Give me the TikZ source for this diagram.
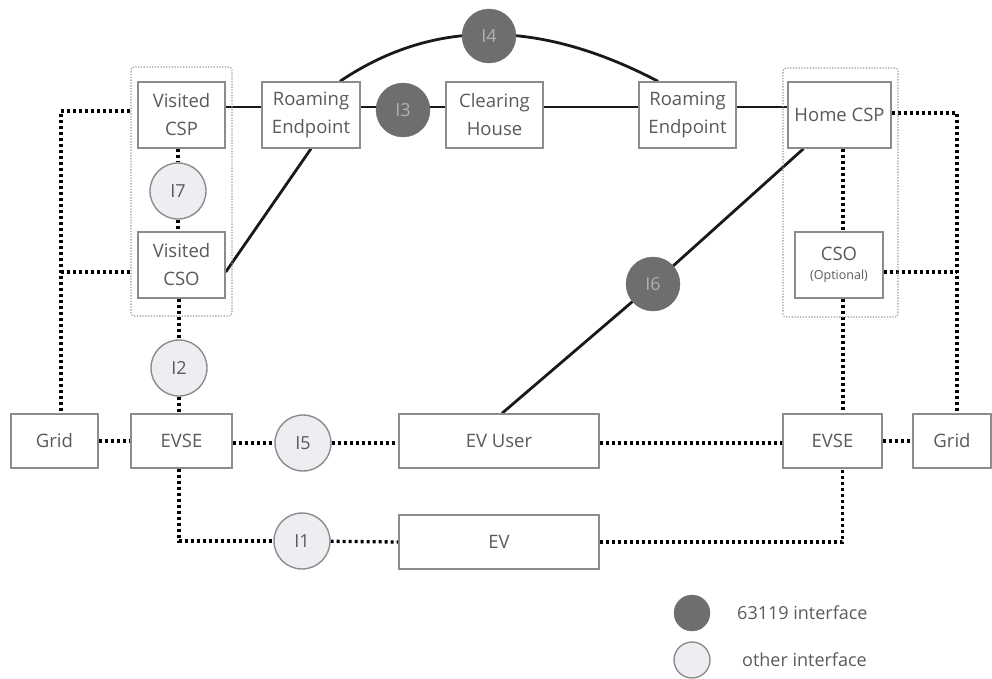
\documentclass[tikz,border=0pt]{standalone}
\usepackage{fontspec}
\setmainfont{Open Sans}
\usetikzlibrary{calc}
\definecolor{boxline}{HTML}{8C8C8C}
\definecolor{txt}{HTML}{5A5A5A}
\definecolor{darkif}{HTML}{6E6E6E}
\definecolor{darkiftxt}{HTML}{B0B0B0}
\definecolor{lightif}{HTML}{EDEDF2}
\definecolor{grp}{HTML}{9A9A9A}
\pgfdeclarelayer{bg}
\pgfsetlayers{bg,main}
\tikzset{
  ent/.style={draw=boxline, line width=1.4pt, fill=white, text=txt, align=center, inner sep=0pt,
    font=\fontsize{18.5}{28}\selectfont},
  darkcirc/.style={circle, fill=darkif, draw=darkif, minimum size=54pt, inner sep=0pt, text=darkiftxt,
    font=\fontsize{18}{20}\selectfont},
  lightcirc/.style={circle, fill=lightif, draw=boxline, line width=1.4pt, minimum size=56pt, inner sep=0pt, text=txt,
    font=\fontsize{18}{20}\selectfont},
  grpbox/.style={draw=grp, line width=1.1pt, dash pattern=on 1.3pt off 1.5pt, rounded corners=3pt, inner sep=0pt},
  solidlink/.style={draw=black!90, line width=2.8pt},
  dotlink/.style={draw=black, line width=3.3pt, dash pattern=on 3pt off 3pt},
  legtxt/.style={text=txt, anchor=west, inner sep=0pt, font=\fontsize{18}{20}\selectfont}
}
\begin{document}
\begin{tikzpicture}[x=1pt,y=-1pt]
\useasboundingbox (0,0) rectangle (992,678);
% group boxes
\node[grpbox, minimum width=101pt, minimum height=249pt] (vgrp) at (181.5,191.5) {};
\node[grpbox, minimum width=115pt, minimum height=249pt] (hgrp) at (840.5,192.5) {};
% entities
\node[ent, minimum width=87pt, minimum height=66pt] (vcsp) at (181.5,115) {Visited\\CSP};
\node[ent, minimum width=87pt, minimum height=66pt] (vcso) at (181.5,265) {Visited\\CSO};
\node[ent, minimum width=98pt, minimum height=66pt] (re1) at (311,115) {Roaming\\Endpoint};
\node[ent, minimum width=97pt, minimum height=66pt] (ch) at (494.5,115) {Clearing\\House};
\node[ent, minimum width=97pt, minimum height=66pt] (re2) at (687.5,115) {Roaming\\Endpoint};
\node[ent, minimum width=103pt, minimum height=66pt] (hcsp) at (839.5,115) {Home CSP};
\node[ent, minimum width=88pt, minimum height=66pt] (hcso) at (839,265)
  {CSO\\[-9pt]{\fontsize{12.5}{14}\selectfont(Optional)}};
\node[ent, minimum width=87pt, minimum height=54pt] (gridL) at (54.5,441) {Grid};
\node[ent, minimum width=101pt, minimum height=54pt] (evseL) at (181.5,441) {EVSE};
\node[ent, minimum width=200pt, minimum height=54pt] (evuser) at (499,441) {EV User};
\node[ent, minimum width=99pt, minimum height=54pt] (evseR) at (832.5,441) {EVSE};
\node[ent, minimum width=78pt, minimum height=54pt] (gridR) at (952,441) {Grid};
\node[ent, minimum width=200pt, minimum height=54pt] (ev) at (499,542) {EV};
% interfaces
\node[darkcirc] (i4) at (489,36) {I4};
\node[darkcirc] (i3) at (403,110) {I3};
\node[darkcirc] (i6) at (653,284) {I6};
\node[lightcirc] (i7) at (178,191) {I7};
\node[lightcirc] (i2) at (179,368) {I2};
\node[lightcirc] (i5) at (303,443) {I5};
\node[lightcirc] (i1) at (302,541) {I1};
% legend
\node[darkcirc, minimum size=36pt] (legd) at (692,613) {};
\node[lightcirc, minimum size=36pt] (legl) at (692,660) {};
\node[legtxt] (legdt) at (737,613) {63119 interface};
\node[legtxt] (leglt) at (742,660) {other interface};
% connectors
\begin{pgfonlayer}{bg}
  % solid links
  \draw[solidlink] ([yshift=8pt]vcsp.east) -- ([yshift=8pt]re1.west);
  \draw[solidlink] ([yshift=8pt]re1.east) -- ([yshift=8pt]ch.west);
  \draw[solidlink] ([yshift=8pt]ch.east) -- ([yshift=8pt]re2.west);
  \draw[solidlink] ([yshift=8pt]re2.east) -- ([yshift=8pt]hcsp.west);
  \draw[solidlink] ([xshift=29pt]re1.north) .. controls (432.7,18.7) and (538.7,18.7) .. ([xshift=-29.5pt]re2.north);
  \draw[solidlink] ([yshift=-7pt]vcso.east) -- (re1.south);
  \draw[solidlink] ([xshift=-36pt]hcsp.south) -- (i6) -- ([xshift=3pt]evuser.north);
  % dotted links
  \draw[dotlink] (vcsp.south -| i7) -- (i7) -- (vcso.north -| i7);
  \draw[dotlink] (vcso.south -| i2) -- (i2) -- (evseL.north -| i2);
  \draw[dotlink] ([yshift=4pt]vgrp.west |- vcsp.west) -| ([xshift=6.5pt]gridL.north);
  \draw[dotlink] ([yshift=-7pt]vgrp.west |- vcso.west) -- ([yshift=-7pt,xshift=6.5pt]gridL.north |- vcso.west);
  \draw[dotlink] (gridL.east) -- (evseL.west);
  \draw[dotlink] ([yshift=-2pt]evseL.east) -- (i5) -- ([yshift=-2pt]evuser.west);
  \draw[dotlink] ([yshift=-2pt]evuser.east) -- ([yshift=-2pt]evseR.west);
  \draw[dotlink] (evseR.east) -- (gridR.west);
  \draw[dotlink] (evseL.south -| i2) |- (i1);
  \draw[dotlink] (i1) -- (ev.west);
  \draw[dotlink] (ev.east) -| ([xshift=10pt]evseR.south);
  \draw[dotlink] ([xshift=3.5pt]hcsp.south) -- ([xshift=4pt]hcso.north);
  \draw[dotlink] ([xshift=4pt]hcso.south) -- ([xshift=10.5pt]evseR.north);
  \draw[dotlink] ([yshift=2pt]hcsp.east) -| ([xshift=5pt]gridR.north);
  \draw[dotlink] ([yshift=-7pt]hcso.east) -- ([yshift=-7pt,xshift=5pt]gridR.north |- hcso.east);
\end{pgfonlayer}
\end{tikzpicture}
\end{document}
